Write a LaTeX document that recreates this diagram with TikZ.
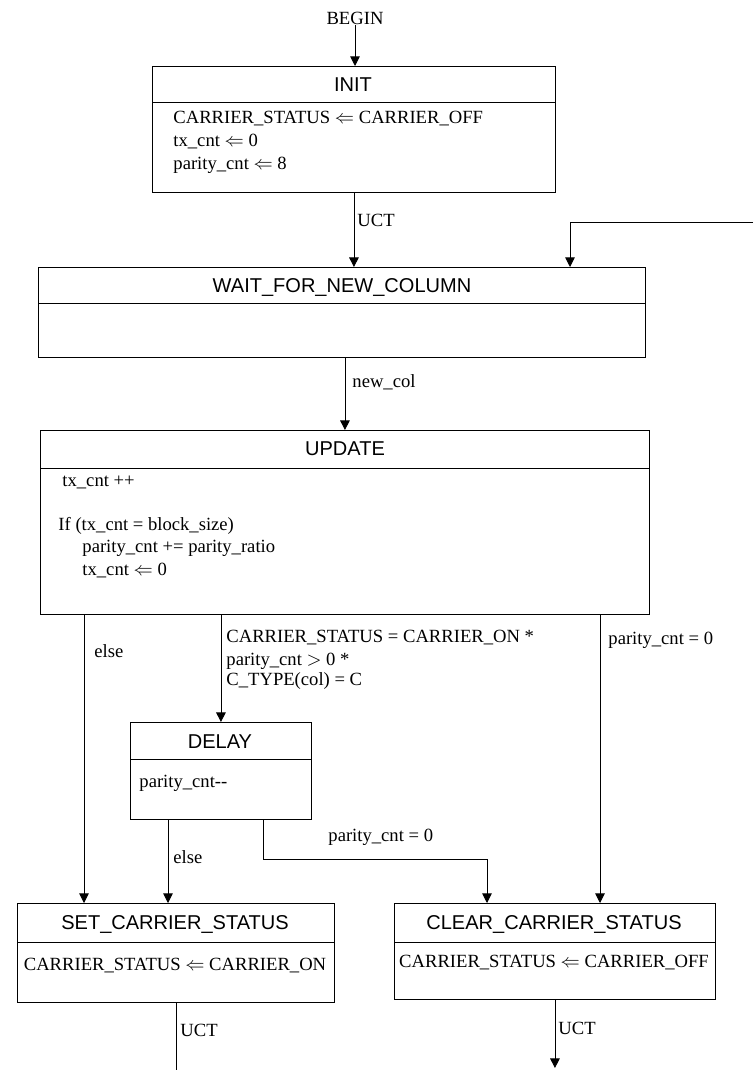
\documentclass[tikz,border=0pt]{standalone}
\usepackage{fontspec}
\setmainfont{Liberation Serif}
\newfontfamily\arialfont{Liberation Sans}
\usetikzlibrary{arrows.meta}

\tikzset{
  sbox/.style 2 args={draw, minimum width=#1*0.02cm, minimum height=#2*0.02cm, anchor=north west, inner sep=0pt},
  ttl/.style={font=\arialfont\fontsize{11.4}{13}\selectfont, inner sep=0pt},
  txt/.style={font=\fontsize{10.6}{12}\selectfont, anchor=west, inner sep=0pt},
  arr/.style={-{Triangle[length=5.5pt,width=5.5pt]}},
}

\begin{document}
\begin{tikzpicture}[x=0.02cm, y=-0.02cm, line width=0.5pt]
\useasboundingbox (0,0) rectangle (753,1070);

\node[txt, anchor=center] (begin) at (355,18) {BEGIN};

\node[sbox={403}{126}] (init) at (152,66) {};
\draw (init.north west) ++(0,36) -- ++(403,0);
\node[ttl] (initT) at (353,85) {INIT};
\node[txt] (init1) at (173,119) {CARRIER\_STATUS $\Leftarrow$ CARRIER\_OFF};
\node[txt] (init2) at (173,142) {tx\_cnt $\Leftarrow$ 0};
\node[txt] (init3) at (173,165) {parity\_cnt $\Leftarrow$ 8};

\node[sbox={607}{90}] (wait) at (38,267) {};
\draw (wait.north west) ++(0,36) -- ++(607,0);
\node[ttl] (waitT) at (342,287) {WAIT\_FOR\_NEW\_COLUMN};

\node[sbox={609}{184}] (update) at (40,430) {};
\draw (update.north west) ++(0,38) -- ++(609,0);
\node[ttl] (updateT) at (345,449) {UPDATE};
\node[txt] (upd1) at (62,482) {tx\_cnt ++};
\node[txt] (upd2) at (58,526) {If (tx\_cnt = block\_size)};
\node[txt] (upd3) at (82,548) {parity\_cnt += parity\_ratio};
\node[txt] (upd4) at (82,571) {tx\_cnt $\Leftarrow$ 0};

\node[sbox={181}{97}] (delay) at (130,722) {};
\draw (delay.north west) ++(0,37) -- ++(181,0);
\node[ttl] (delayT) at (220,742) {DELAY};
\node[txt] (delay1) at (139,783) {parity\_cnt-{}-};

\node[sbox={317}{99}] (set) at (17,903) {};
\draw (set.north west) ++(0,39) -- ++(317,0);
\node[ttl] (setT) at (175,924) {SET\_CARRIER\_STATUS};
\node[txt, anchor=center] (set1) at (175,966) {CARRIER\_STATUS $\Leftarrow$ CARRIER\_ON};

\node[sbox={321}{96}] (clear) at (394,903) {};
\draw (clear.north west) ++(0,39) -- ++(321,0);
\node[ttl] (clearT) at (554,924) {CLEAR\_CARRIER\_STATUS};
\node[txt, anchor=center] (clear1) at (554,963) {CARRIER\_STATUS $\Leftarrow$ CARRIER\_OFF};

\coordinate (loopIn) at (753,222);
\coordinate (loopX) at (570,0);
\coordinate (elseX) at (84,0);
\coordinate (zeroX) at (600,0);
\coordinate (dElseX) at (168,0);
\coordinate (dZeroX) at (263,0);
\coordinate (dZeroY) at (0,859);
\coordinate (clearInX) at (487,0);
\coordinate (bottom) at (0,1070);
\coordinate (bottomArr) at (0,1068);

\draw[arr] (begin) -- (begin |- init.north);
\draw[arr] (init.south) -- (init.south |- wait.north);
\node[txt] (uct1) at (357,220) {UCT};
\draw[arr] (loopIn) -| (wait.north -| loopX);
\draw[arr] (wait.south -| update.north) -- (update.north);
\node[txt] (newcol) at (352,382) {new\_col};

\draw[arr] (update.south -| elseX) -- (set.north -| elseX);
\node[txt] (else1) at (94,651) {else};
\draw[arr] (update.south -| delay.north) -- (delay.north);
\node[txt] (cond1) at (226,638) {CARRIER\_STATUS = CARRIER\_ON *};
\node[txt] (cond2) at (226,661) {parity\_cnt $>$ 0 *};
\node[txt] (cond3) at (226,681) {C\_TYPE(col) = C};
\draw[arr] (update.south -| zeroX) -- (clear.north -| zeroX);
\node[txt] (zero1) at (608,640) {parity\_cnt = 0};

\draw[arr] (delay.south -| dElseX) -- (set.north -| dElseX);
\node[txt] (else2) at (173,857) {else};
\draw[arr] (delay.south -| dZeroX) -- (dZeroX |- dZeroY) -| (clear.north -| clearInX);
\node[txt] (zero2) at (328,837) {parity\_cnt = 0};

\draw (set.south) -- (set.south |- bottom);
\node[txt] (uct2) at (180,1030) {UCT};
\draw[arr] (clear.south) -- (clear.south |- bottomArr);
\node[txt] (uct3) at (558,1028) {UCT};
\end{tikzpicture}
\end{document}
